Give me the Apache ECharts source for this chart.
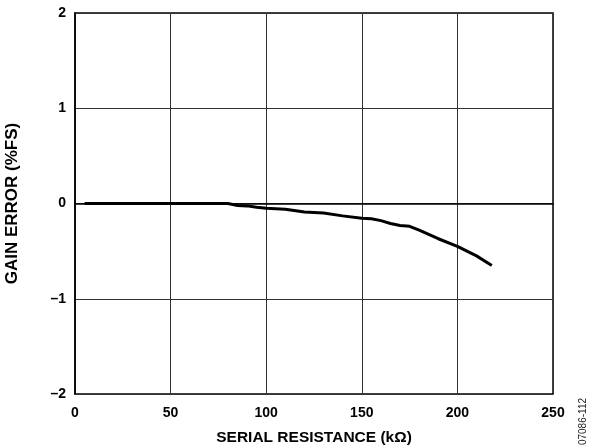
<!DOCTYPE html>
<html>
<head>
<meta charset="utf-8">
<script src="https://cdn.jsdelivr.net/npm/echarts@6/dist/echarts.min.js"></script>
<style>html,body{margin:0;padding:0;background:#fff}#c{width:595px;height:448px}</style>
</head>
<body>
<div id="c"></div>
<script>
const resistance = [5, 10, 20, 30, 40, 50, 60, 70, 80, 85, 90, 95, 100, 110, 120, 130, 140, 150, 155, 160, 165, 170, 175, 180, 190, 200, 210, 218];
const gainError = [0, 0, 0, 0, 0, 0, 0, 0, 0, -0.02, -0.025, -0.04, -0.05, -0.06, -0.09, -0.10, -0.13, -0.155, -0.16, -0.18, -0.21, -0.23, -0.24, -0.28, -0.37, -0.45, -0.55, -0.65];
const xTicks = [0, 50, 100, 150, 200, 250];
const yTicks = [-2, -1, 0, 1, 2];

const chart = echarts.init(document.getElementById('c'));
const font = 'Liberation Sans, Arial, sans-serif';
chart.setOption({
  animation: false,
  grid: {left: 75, right: 42, top: 13, bottom: 54, show: true, borderColor: '#000', borderWidth: 1.5,
    containLabel: false, outerBoundsMode: 'none'},
  xAxis: {
    type: 'value', min: 0, max: 250, interval: 50,
    name: 'SERIAL RESISTANCE (kΩ)', nameLocation: 'middle', nameGap: 36,
    nameTextStyle: {fontFamily: font, fontWeight: 'bold', fontSize: 15.5, color: '#000'},
    axisLine: {show: true, lineStyle: {color: '#000', width: 1.5}},
    axisTick: {show: false},
    axisLabel: {fontFamily: font, fontWeight: 'bold', fontSize: 14, color: '#000', margin: 12,
      formatter: v => xTicks.includes(v) ? String(v) : ''},
    splitLine: {show: true, lineStyle: {color: '#333', width: 1}}
  },
  yAxis: {
    type: 'value', min: -2, max: 2, interval: 1,
    name: 'GAIN ERROR (%FS)', nameLocation: 'middle', nameGap: 54,
    nameTextStyle: {fontFamily: font, fontWeight: 'bold', fontSize: 17, color: '#000'},
    axisLine: {show: true, lineStyle: {color: '#000', width: 1.5}},
    axisTick: {show: false},
    axisLabel: {fontFamily: font, fontWeight: 'bold', fontSize: 14, color: '#000', margin: 9,
      formatter: v => yTicks.includes(v) ? (v < 0 ? '\u2013' + Math.abs(v) : String(v)) : ''},
    splitLine: {show: true, lineStyle: {color: '#333', width: 1}}
  },
  graphic: [{
    type: 'text', left: 578, top: 398, rotation: Math.PI / 2,
    style: {text: '07086-112', font: '10px ' + font, fill: '#222'}
  }],
  series: [{
    type: 'line', data: resistance.map((x, i) => [x, gainError[i]]),
    showSymbol: false, smooth: false,
    lineStyle: {color: '#000', width: 3}
  }]
});
</script>
</body>
</html>
